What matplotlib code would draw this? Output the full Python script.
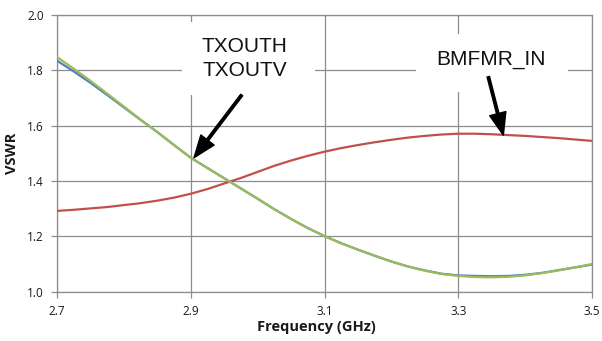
import matplotlib
matplotlib.use("Agg")
import matplotlib.pyplot as plt
from matplotlib.patches import Rectangle

# Frequency sweep (GHz)
freq = [2.700, 2.725, 2.750, 2.775, 2.800, 2.825, 2.850, 2.875, 2.900,
        2.925, 2.950, 2.975, 3.000, 3.025, 3.050, 3.075, 3.100,
        3.125, 3.150, 3.175, 3.200, 3.225, 3.250, 3.275, 3.300,
        3.325, 3.350, 3.375, 3.400, 3.425, 3.450, 3.475, 3.500]

# VSWR per port
txouth = [1.835, 1.796, 1.755, 1.711, 1.666, 1.621, 1.577, 1.530, 1.484,
          1.447, 1.410, 1.373, 1.336, 1.298, 1.263, 1.230, 1.201,
          1.175, 1.152, 1.130, 1.109, 1.091, 1.077, 1.065, 1.059,
          1.057, 1.056, 1.057, 1.061, 1.068, 1.078, 1.088, 1.098]
txoutv = [1.848, 1.806, 1.762, 1.716, 1.669, 1.622, 1.577, 1.530, 1.484,
          1.447, 1.410, 1.373, 1.336, 1.298, 1.263, 1.230, 1.201,
          1.175, 1.152, 1.130, 1.109, 1.091, 1.076, 1.064, 1.057,
          1.053, 1.052, 1.054, 1.059, 1.067, 1.077, 1.088, 1.100]
bmfmr_in = [1.292, 1.296, 1.301, 1.306, 1.313, 1.320, 1.329, 1.340, 1.354,
            1.371, 1.391, 1.411, 1.433, 1.455, 1.474, 1.491, 1.506,
            1.519, 1.530, 1.540, 1.549, 1.557, 1.563, 1.568, 1.571,
            1.571, 1.569, 1.566, 1.563, 1.559, 1.555, 1.550, 1.545]

x_ticks = [2.7, 2.9, 3.1, 3.3, 3.5]
y_ticks = [1.0, 1.2, 1.4, 1.6, 1.8, 2.0]

W, H = 602, 341
fig = plt.figure(figsize=(W / 100, H / 100), dpi=100)
ax = fig.add_axes([57 / W, 1 - 291.7 / H, (592 - 57) / W, (291.7 - 15) / H])

grid_c = "#8c8c8c"
ax.set_xlim(2.7, 3.5)
ax.set_ylim(1.0, 2.0)
ax.set_xticks(x_ticks)
ax.set_yticks(y_ticks)
ax.set_xticklabels([f"{v:.1f}" for v in x_ticks])
ax.set_yticklabels([f"{v:.1f}" for v in y_ticks])
ax.grid(True, color=grid_c, linewidth=0.9)
ax.set_axisbelow(True)
for s in ax.spines.values():
    s.set_color(grid_c)
    s.set_linewidth(0.9)
ax.tick_params(direction="out", length=4.5, width=0.9, color=grid_c,
               labelsize=8.5, labelcolor="#1a1a1a", pad=5)
for lab in ax.get_xticklabels() + ax.get_yticklabels():
    lab.set_fontfamily("Open Sans")

ax.plot(freq, bmfmr_in, color="#C0504D", lw=1.6, zorder=4)
ax.plot(freq, txouth, color="#4F81BD", lw=1.6, zorder=4)
ax.plot(freq, txoutv, color="#9BBB59", lw=1.6, zorder=5)

fig.text(11.5 / W, 1 - 153 / H, "VSWR", rotation=90, ha="center", va="center",
         fontsize=10.5, fontweight="bold", family="Open Sans", color="#1a1a1a")
fig.text(316 / W, 1 - 327 / H, "Frequency (GHz)", ha="center", va="center",
         fontsize=10.5, fontweight="bold", family="Open Sans", color="#1a1a1a")

# White label boxes over the grid
ax.add_patch(Rectangle((2.8865, 1.7109), 3.0858 - 2.8865, 1.9758 - 1.7109,
                       facecolor="white", edgecolor="none", zorder=2.5))
ax.add_patch(Rectangle((3.2375, 1.7215), 3.4634 - 3.2375, 1.9331 - 1.7215,
                       facecolor="white", edgecolor="none", zorder=2.5))

lab_kw = dict(ha="center", va="baseline", fontsize=15, family="Liberation Sans",
              color="#111111", zorder=6)
ax.text(2.9808, 1.8656, "TXOUTH", **lab_kw)
ax.text(2.9808, 1.7795, "TXOUTV", **lab_kw)
ax.text(3.3489, 1.8218, "BMFMR_IN", **lab_kw)

arrow_kw = dict(facecolor="black", edgecolor="black", width=1.8,
                headwidth=12, headlength=16, shrink=0)
ax.annotate("", xy=(2.9049, 1.4843), xytext=(2.9762, 1.7109),
            arrowprops=arrow_kw, zorder=7)
ax.annotate("", xy=(3.3674, 1.5658), xytext=(3.3449, 1.777),
            arrowprops=arrow_kw, zorder=7)

fig.savefig("out.png", dpi=100)
